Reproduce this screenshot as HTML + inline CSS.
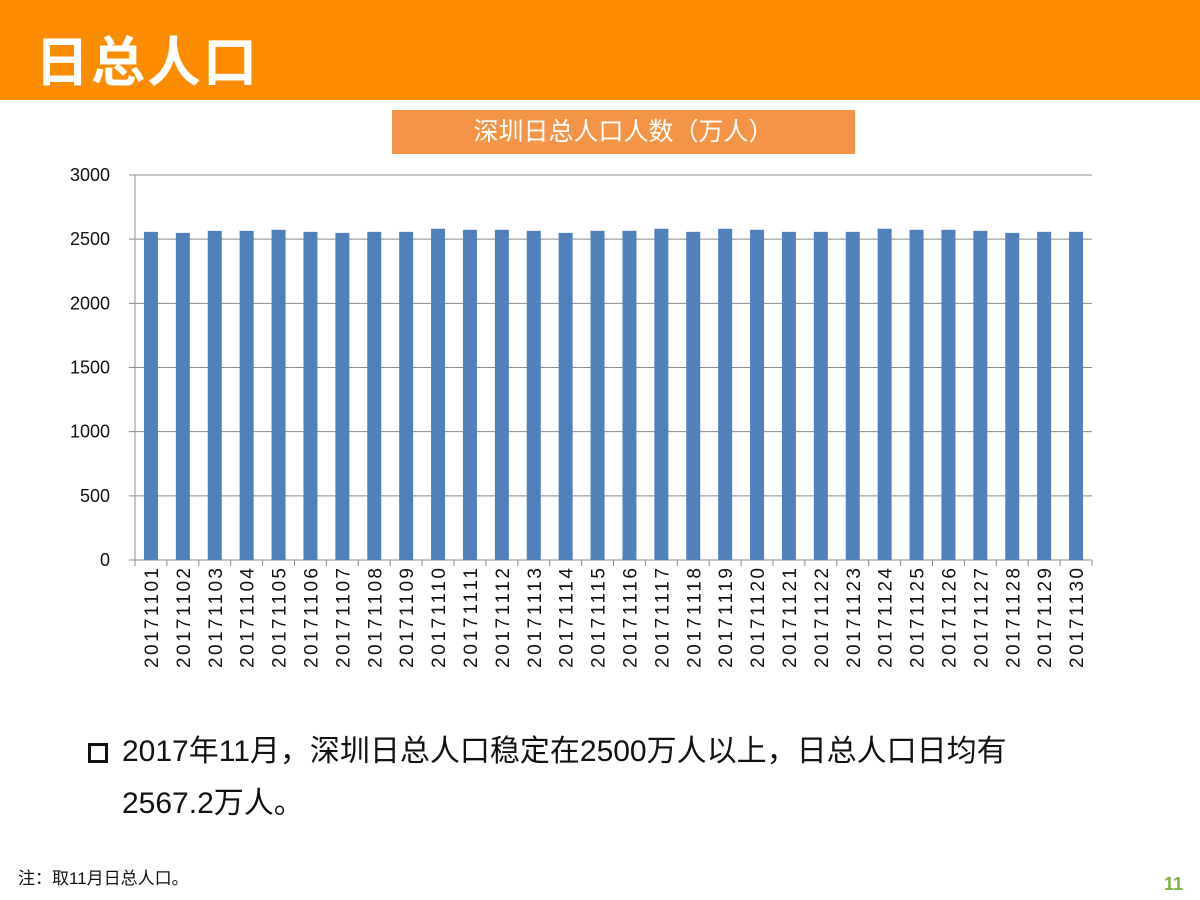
<!DOCTYPE html>
<html><head><meta charset="utf-8"><style>
body{margin:0;width:1200px;height:900px;background:#fff;position:relative;overflow:hidden;font-family:"Liberation Sans","Noto Sans CJK SC",sans-serif}
.hdr{position:absolute;left:0;top:0;width:1200px;height:100px;background:#FB8C00}
.hdr h1{margin:0;position:absolute;left:35px;top:18px;font-size:54px;color:#fff;font-weight:bold;letter-spacing:2px}
.ct{position:absolute;left:392px;top:110px;width:463px;height:44px;background:#F39447;color:#fff;font-size:25px;text-align:center;line-height:44px}
.bul{position:absolute;left:88px;top:726px;font-size:30px;color:#111;line-height:52px}
.bul .sq{position:absolute;left:0;top:17px;width:14px;height:14px;border:3px solid #111}
.note{position:absolute;left:18px;top:864px;font-size:17px;color:#111}
.pg{position:absolute;left:1164px;top:874px;font-size:18px;color:#7cb342;font-weight:bold}
</style></head><body>
<div class="hdr"><h1>日总人口</h1></div>
<div class="ct">深圳日总人口人数（万人）</div>
<svg id="chart" width="1200" height="900" style="position:absolute;left:0;top:0"></svg>
<div class="bul"><span class="sq"></span><div style="margin-left:34px">2017年11月，深圳日总人口稳定在2500万人以上，日总人口日均有<br>2567.2万人。</div></div>
<div class="note">注：取11月日总人口。</div>
<div class="pg">11</div>
<script>
const categories=[];for(let d=1;d<=30;d++)categories.push('201711'+String(d).padStart(2,'0'));
const values=[2557,2549,2565,2565,2573,2557,2549,2557,2557,2581,2573,2573,2565,2549,2565,2565,2581,2557,2581,2573,2557,2557,2557,2581,2573,2573,2565,2549,2557,2557];
const yTicks=[0,500,1000,1500,2000,2500,3000];
const svg=document.getElementById('chart');const NS='http://www.w3.org/2000/svg';
const X0=135,X1=1092,Y0=560,Y1=175,yMax=3000;
const step=(X1-X0)/categories.length;
const y=v=>Y0-(v/yMax)*(Y0-Y1);
const xc=i=>X0+step*(i+0.5);
function mk(t,a){const e=document.createElementNS(NS,t);for(const k in a)e.setAttribute(k,a[k]);svg.appendChild(e);return e;}
yTicks.forEach(t=>{
 const l=mk('line',{x1:X0-6,x2:X1,y1:y(t),y2:y(t),stroke:'#8c8c8c','stroke-width':1});
 
 
 const tx=mk('text',{x:X0-25,y:y(t)+6,'text-anchor':'end','font-size':18,fill:'#111','font-family':'Liberation Sans,sans-serif'});
 tx.textContent=t;
 
 
});
const ax=mk('line',{x1:X0,x2:X0,y1:Y1,y2:Y0+6,stroke:'#8c8c8c'});


categories.forEach((c,i)=>{
 const b=mk('rect',{x:xc(i)-7,y:y(values[i]),width:14,height:Y0-y(values[i]),fill:'#4F81BD'});
 
 
 const tk=mk('line',{x1:X0+step*(i+1),x2:X0+step*(i+1),y1:Y0,y2:Y0+6,stroke:'#8c8c8c'});
 
 
 const t=mk('text',{x:0,y:0,'text-anchor':'end','font-size':19,textLength:100,lengthAdjust:'spacing',fill:'#111','font-family':'Liberation Sans,sans-serif',transform:`translate(${xc(i)+7},${Y0+8}) rotate(-90)`});
 t.textContent=c;
 
 
});
</script>
</body></html>
